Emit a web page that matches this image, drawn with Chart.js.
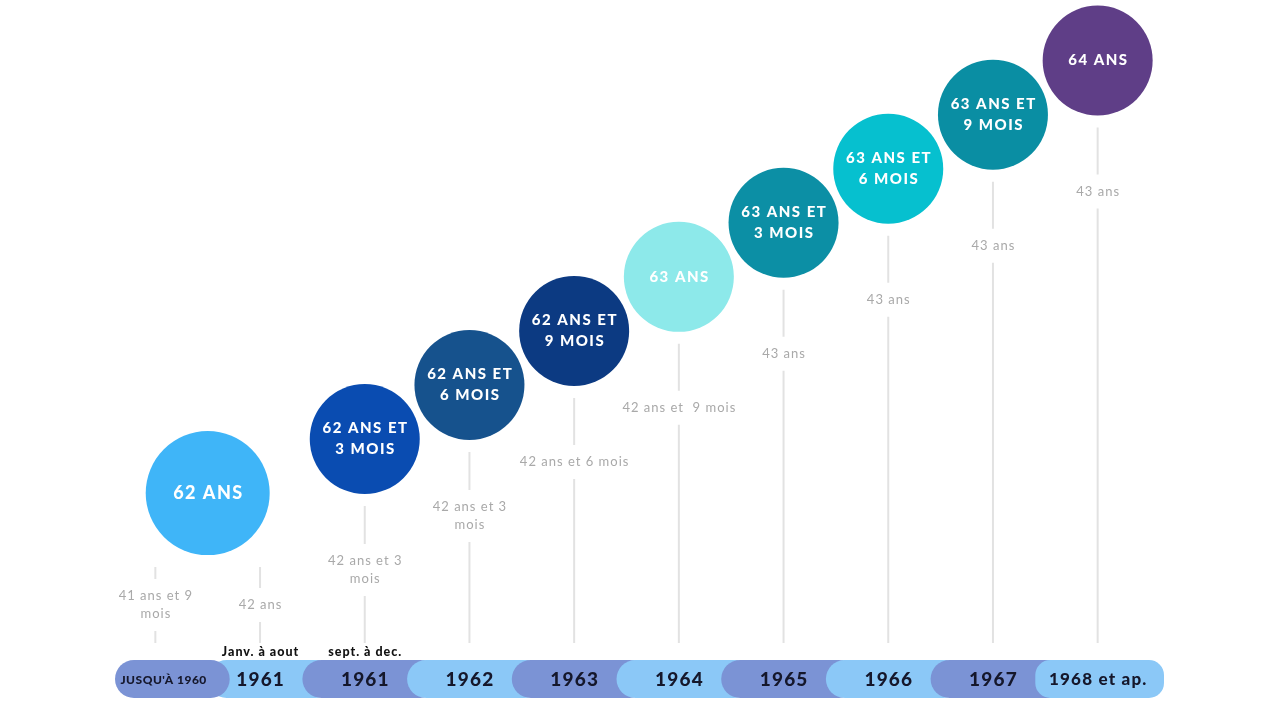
<!DOCTYPE html>
<html lang="fr">
<head>
<meta charset="utf-8">
<title>Âge légal de départ et durée d'assurance requise</title>
<script src="https://cdn.jsdelivr.net/npm/chart.js@4.4.1/dist/chart.umd.min.js"></script>
<style>
  html, body { margin: 0; padding: 0; background: #fff; }
  #wrap { width: 1280px; height: 720px; }
</style>
</head>
<body>
<div id="wrap"><canvas id="retraiteChart" width="1280" height="720"></canvas></div>
<script>
// Génération (année de naissance)
var periods = ["JUSQU'À 1960", "1961", "1961", "1962", "1963", "1964", "1965", "1966", "1967", "1968 et ap."];
var periodNotes = ["", "Janv. à aout", "sept. à dec.", "", "", "", "", "", "", ""];

// Âge légal de départ (en années)
var legalAge = [62, 62, 62.25, 62.5, 62.75, 63, 63.25, 63.5, 63.75, 64];
var legalAgeLabels = [
  "62 ANS", "62 ANS", "62 ANS ET\n3 MOIS", "62 ANS ET\n6 MOIS", "62 ANS ET\n9 MOIS",
  "63 ANS", "63 ANS ET\n3 MOIS", "63 ANS ET\n6 MOIS", "63 ANS ET\n9 MOIS", "64 ANS"
];

// Durée d'assurance requise
var insuranceLabels = [
  "41 ans et 9\nmois", "42 ans", "42 ans et 3\nmois", "42 ans et 3\nmois", "42 ans et 6 mois",
  "42 ans et  9 mois", "43 ans", "43 ans", "43 ans", "43 ans"
];

// one circle per distinct age; consecutive periods with the same age share a circle
var circles = [];
var columnCircle = [];
legalAge.forEach(function (age, i) {
  var last = circles[circles.length - 1];
  if (last && last.y === age) {
    last.span.push(i);
    last.x = (last.span[0] + i) / 2;
  } else {
    circles.push({ x: i, y: age, span: [i], label: legalAgeLabels[i] });
  }
  columnCircle.push(circles.length - 1);
});

var FONT = "Lato, 'Noto Sans', sans-serif";

function drawText(ctx, text, x, y, font, color, spacing, lineHeight) {
  var lines = text.split("\n");
  ctx.save();
  ctx.font = font;
  ctx.fillStyle = color;
  ctx.textAlign = "center";
  ctx.textBaseline = "middle";
  ctx.letterSpacing = spacing + "px";
  var y0 = y - (lines.length - 1) * lineHeight / 2;
  lines.forEach(function (line, k) {
    ctx.fillText(line, x + spacing / 2, y0 + k * lineHeight);
  });
  ctx.restore();
}

function pill(ctx, left, top, right, height, r) {
  ctx.beginPath();
  ctx.moveTo(left + r, top);
  ctx.lineTo(right - r, top);
  ctx.arcTo(right, top, right, top + r, r);
  ctx.lineTo(right, top + height - r);
  ctx.arcTo(right, top + height, right - r, top + height, r);
  ctx.lineTo(left + r, top + height);
  ctx.arcTo(left, top + height, left, top + height - r, r);
  ctx.lineTo(left, top + r);
  ctx.arcTo(left, top, left + r, top, r);
  ctx.closePath();
  ctx.fill();
}

var timelinePlugin = {
  id: "timeline",
  beforeDatasetsDraw: function (chart) {
    var ctx = chart.ctx;
    var area = chart.chartArea;
    var xs = chart.scales.x;
    var meta = chart.getDatasetMeta(0);

    // vertical guide lines with the required insurance duration
    periods.forEach(function (p, i) {
      var pt = meta.data[columnCircle[i]];
      var x = xs.getPixelForValue(i);
      var top = pt.y + pt.options.radius + 12;
      var bottom = area.bottom;
      var lines = insuranceLabels[i].split("\n").length;
      var mid = top + Math.min(64, (bottom - top) * 0.5);
      var half = lines * 18 / 2;
      ctx.save();
      ctx.strokeStyle = "#e2e2e2";
      ctx.lineWidth = 2;
      ctx.beginPath();
      if (mid - half - 8 > top) {
        ctx.moveTo(x, top);
        ctx.lineTo(x, mid - half - 8);
      }
      if (mid + half + 8 < bottom) {
        ctx.moveTo(x, mid + half + 8);
        ctx.lineTo(x, bottom);
      }
      ctx.stroke();
      ctx.restore();
      drawText(ctx, insuranceLabels[i], x, mid, "13px " + FONT, "#a9a9a9", 1, 18);
    });

    // generation strip
    var stripTop = area.bottom + 17;
    var stripH = 38;
    var order = [1, 0, 2, 3, 4, 5, 6, 7, 8, 9];
    order.forEach(function (i) {
      var left = xs.getPixelForValue(i - 0.5) - (i > 1 ? 10 : 0) + (i === 0 ? 12 : 0);
      var right = xs.getPixelForValue(i + 0.5) + (i < periods.length - 1 ? 22 : 14);
      ctx.fillStyle = i % 2 === 0 ? "#7b93d5" : "#8bc8f7";
      pill(ctx, left, stripTop, right, stripH, i === periods.length - 1 ? 15 : 19);
    });
    periods.forEach(function (p, i) {
      var x = xs.getPixelForValue(i) + (i === 0 ? 8 : 0);
      var font = i === 0 ? "900 12px " + FONT : (i === periods.length - 1 ? "900 17px " + FONT : "900 19px " + FONT);
      drawText(ctx, p, x, stripTop + stripH / 2 + 1, font, "#15172b", i === 0 ? 0.5 : 1.2, 18);
      if (periodNotes[i]) {
        drawText(ctx, periodNotes[i], x, stripTop - 8, "900 12.5px " + FONT, "#111111", 1, 14);
      }
    });
  },
  afterDatasetsDraw: function (chart) {
    var ctx = chart.ctx;
    chart.getDatasetMeta(0).data.forEach(function (pt, k) {
      var c = circles[k];
      var big = c.span.length > 1;
      drawText(ctx, c.label, pt.x, pt.y, "900 " + (big ? 18 : 15) + "px " + FONT, "#ffffff", 1.5, 21);
    });
  }
};

var retraiteCtx = document.getElementById("retraiteChart").getContext("2d");
var retraiteChart = new Chart(retraiteCtx, {
  type: "scatter",
  data: {
    datasets: [
      {
        label: "Âge légal de départ",
        data: circles,
        backgroundColor: [
          "#3fb5f8", "#0a4cb1", "#16528d", "#0c3a82", "#8de9ea",
          "#0c8fa5", "#06c0cf", "#0a8ea3", "#5f3e87"
        ],
        borderWidth: 0,
        pointRadius: function (ctx) {
          var c = circles[ctx.dataIndex];
          return c && c.span.length > 1 ? 62 : 55;
        },
        pointHoverRadius: function (ctx) {
          var c = circles[ctx.dataIndex];
          return c && c.span.length > 1 ? 62 : 55;
        },
        clip: false,
      },
    ],
  },
  options: {
    responsive: false,
    animation: false,
    devicePixelRatio: 1,
    events: [],
    layout: { autoPadding: false, padding: { left: 103, right: 130, top: 0, bottom: 77 } },
    plugins: { legend: { display: false }, tooltip: { enabled: false } },
    scales: {
      x: { type: "linear", min: -0.5, max: 9.5, display: false },
      y: { type: "linear", min: 61.307, max: 64.28, display: false },
    },
  },
  plugins: [timelinePlugin],
});
</script>
</body>
</html>
